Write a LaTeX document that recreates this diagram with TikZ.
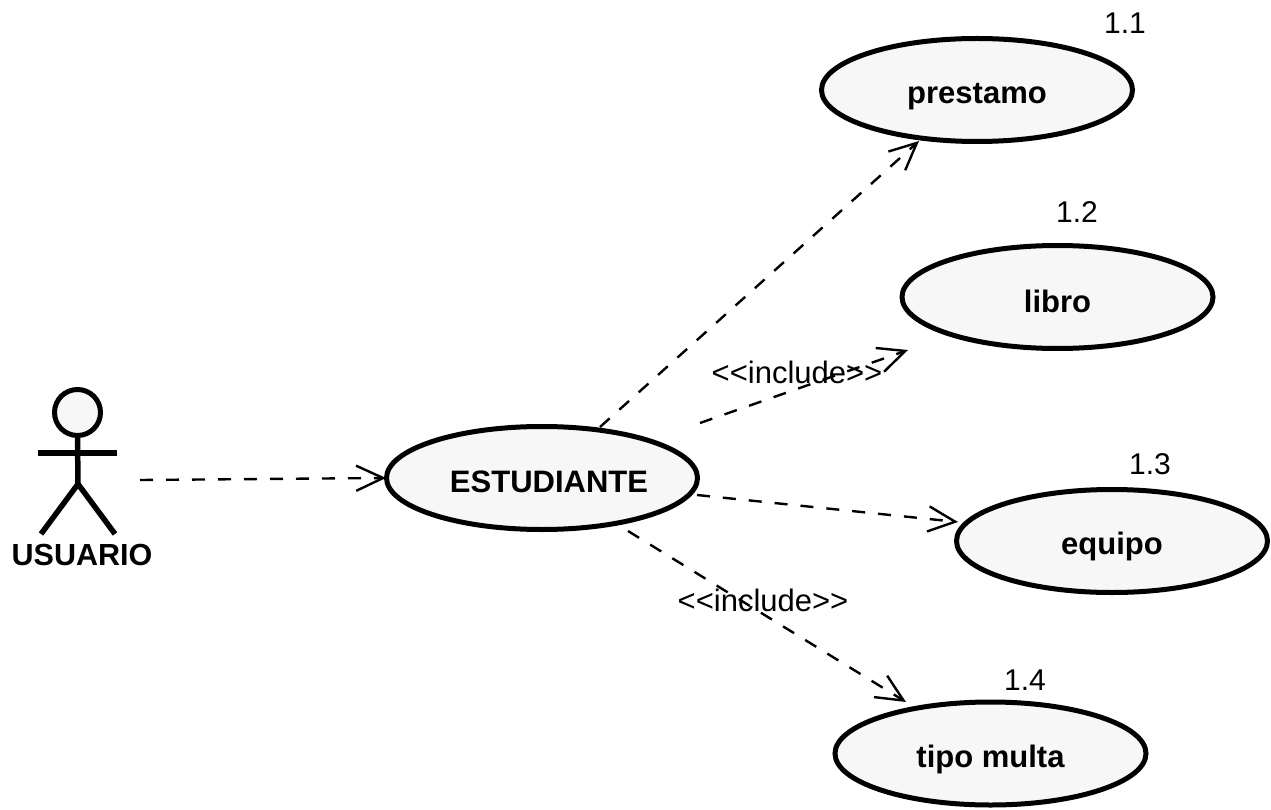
\documentclass[tikz,border=0pt]{standalone}
\usepackage{fontspec}
\setmainfont{Liberation Sans}
\usetikzlibrary{shapes.geometric,arrows.meta}
\tikzset{
 uc/.style={ellipse,draw=black,line width=5pt,fill=black!3,minimum width=311pt,minimum height=103pt,inner sep=0pt,text depth=0pt,font=\fontsize{31}{34}\selectfont\bfseries},
 dep/.style={draw=black,line width=2.4pt,dash pattern=on 13pt off 13pt,-{Straight Barb[length=27pt,width=33pt,line width=2.4pt,angle'=50]}},
 lab/.style={inner sep=0pt,font=\fontsize{31}{35}\selectfont},
 num/.style={inner sep=0pt,font=\fontsize{30}{34}\selectfont},
 limb/.style={draw=black,line width=5.5pt}
}
\begin{document}
\begin{tikzpicture}[x=1pt,y=-1pt]
\useasboundingbox (0,0) rectangle (1271,810);
\node[uc,text height=28pt] (pre) at (977,90) {prestamo};
\node[uc,text height=30pt] (lib) at (1057.5,297) {libro};
\node[uc,text height=26pt] (equ) at (1112,541) {equipo};
\node[uc,text height=27pt] (mul) at (990.5,753.5) {tipo multa};
\node[uc,text height=28pt] (est) at (542,478) {\hspace*{14pt}ESTUDIANTE};
\node[num] (n1) at (1125,23) {1.1};
\node[num] (n2) at (1077,212) {1.2};
\node[num] (n3) at (1150,464) {1.3};
\node[num] (n4) at (1025,680) {1.4};
\node[draw=black,line width=5pt,circle,fill=black!3,minimum size=46pt,inner sep=0pt] (head) at (77.5,412.5) {};
\coordinate (hip) at (78,484);
\coordinate (armL) at (38,453);
\coordinate (armR) at (117,453);
\coordinate (legL) at (41,534);
\coordinate (legR) at (115,534);
\draw[limb] (head.south) -- (hip);
\draw[limb] (armL) -- (armR);
\draw[limb] (legL) -- (hip) -- (legR);
\node[inner sep=0pt,font=\fontsize{30.5}{34}\selectfont\bfseries] (usr) at (82,555) {USUARIO};
\coordinate (aS) at (140,480);
\coordinate (s1) at (600,427);
\coordinate (e1) at (919,141);
\coordinate (s2) at (700,423);
\coordinate (e2) at (908,350);
\coordinate (s3) at (697,495);
\coordinate (e3) at (958,522);
\coordinate (s4) at (628,531);
\coordinate (e4) at (906,702);
\draw[dep,shorten >=-2pt] (aS) -- (est.west);
\draw[dep] (s1) -- (e1);
\draw[dep] (s2) -- (e2);
\draw[dep] (s3) -- (e3);
\draw[dep] (s4) -- (e4);
\node[lab] (i1) at (797,372) {<{}<include>{}>};
\node[lab] (i2) at (763,600) {<{}<include>{}>};
\end{tikzpicture}
\end{document}
